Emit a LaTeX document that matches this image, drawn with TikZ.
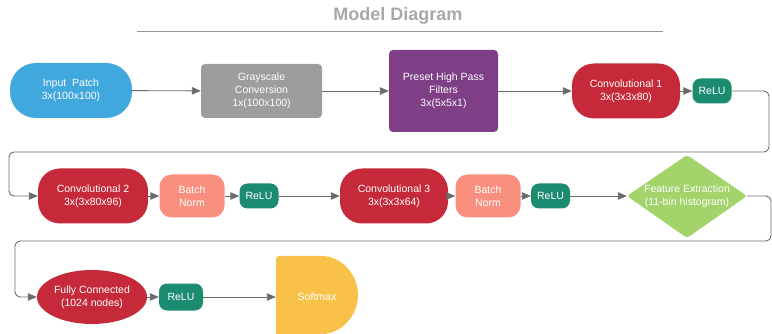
\documentclass[tikz,border=0pt]{standalone}
\usepackage{fontspec}
\setmainfont{Liberation Sans}
\usetikzlibrary{shapes.geometric,arrows.meta}

\definecolor{patchblue}{HTML}{41A8DD}
\definecolor{graybox}{HTML}{9D9D9D}
\definecolor{hpfpurple}{HTML}{7E3F87}
\definecolor{convred}{HTML}{C62A3A}
\definecolor{relugreen}{HTML}{1C8C70}
\definecolor{bnsalmon}{HTML}{F9907F}
\definecolor{featgreen}{HTML}{A3D36B}
\definecolor{smaxyellow}{HTML}{F8C24A}
\definecolor{flowgray}{HTML}{6B6B6B}
\definecolor{titlegray}{HTML}{A8A8A8}

\begin{document}
\begin{tikzpicture}[x=1pt,y=-1pt,
    blk/.style={text=white,font=\fontsize{10.5}{13}\selectfont,align=center,inner sep=0pt},
    flow/.style={draw=flowgray,line width=0.9pt,-{Triangle[length=9pt,width=7.5pt]}},
    relu/.style={blk,fill=relugreen,rounded corners=8pt,minimum width=39pt,minimum height=25pt},
    conv/.style={blk,fill=convred,rounded corners=22pt,minimum width=110pt,minimum height=55pt},
    bnorm/.style={blk,fill=bnsalmon,rounded corners=12pt,minimum width=65pt,minimum height=43pt}]
    \useasboundingbox (0,0) rectangle (772,334);

    % Title
    \node[font=\bfseries\fontsize{18}{20}\selectfont,text=titlegray] (title) at (398,16) {Model Diagram};
    \draw[titlegray!90!black,line width=0.8pt] (137,31) -- (663,31);

    % First row
    \node[blk,fill=patchblue,rounded corners=26pt,minimum width=122pt,minimum height=55pt] (patch) at (71,90.5) {Input\ \ Patch\\3x(100x100)};
    \node[blk,fill=graybox,rounded corners=4pt,minimum width=121pt,minimum height=54pt] (gray) at (261.5,91) {Grayscale\\Conversion\\1x(100x100)};
    \node[blk,fill=hpfpurple,rounded corners=4pt,minimum width=109pt,minimum height=82pt] (hpf) at (443.5,91) {Preset High Pass\\Filters\\3x(5x5x1)};
    \node[conv,minimum width=108pt] (conv1) at (626,91) {Convolutional 1\\3x(3x3x80)};
    \node[relu] (relu1) at (712,91) {ReLU};

    \draw[flow] (patch) -- (gray);
    \draw[flow] (gray) -- (hpf);
    \draw[flow] (hpf) -- (conv1);
    \draw[flow] (conv1) -- (relu1);

    % Second row
    \node[conv] (conv2) at (93,196) {Convolutional 2\\3x(3x80x96)};
    \node[bnorm] (bn1) at (192,196) {Batch\\Norm};
    \node[relu] (relu2) at (259,196) {ReLU};
    \node[conv,minimum width=108pt] (conv3) at (394,196) {Convolutional 3\\3x(3x3x64)};
    \node[bnorm] (bn2) at (488,196) {Batch\\Norm};
    \node[relu] (relu3) at (550.5,196) {ReLU};
    \fill[featgreen,rounded corners=3pt] (687,155) -- (747,196) -- (687,238) -- (627,196) -- cycle;
    \node[blk,minimum width=120pt,minimum height=83pt] (feat) at (687,196) {Feature Extraction\\(11-bin histogram)};

    \draw[flow,rounded corners=5pt] (relu1.east) -- (769,91) -- (769,152) -- (9,152) -- (9,196) -- (conv2.west);
    \draw[flow] (conv2) -- (bn1);
    \draw[flow] (bn1) -- (relu2);
    \draw[flow] (relu2) -- (conv3);
    \draw[flow] (conv3) -- (bn2);
    \draw[flow] (bn2) -- (relu3);
    \draw[flow] (relu3) -- (feat);

    % Third row
    \node[blk,ellipse,fill=convred,minimum width=110pt,minimum height=54pt] (fc) at (92,297) {Fully Connected\\(1024 nodes)};
    \node[relu,minimum width=44pt,minimum height=27pt] (relu4) at (181,297) {ReLU};
    \fill[smaxyellow,rounded corners=3pt] (276,340) -- (276,256) -- (319,256) arc[start angle=-90,end angle=90,radius=39] -- cycle;
    \node[blk,minimum width=82pt,minimum height=78pt] (smax) at (317,297) {Softmax};

    \draw[flow,rounded corners=5pt] (feat.east) -- (771,196) -- (771,241) -- (15,241) -- (15,297) -- (fc.west);
    \draw[flow] (fc) -- (relu4);
    \draw[flow] (relu4) -- (smax);
\end{tikzpicture}
\end{document}
